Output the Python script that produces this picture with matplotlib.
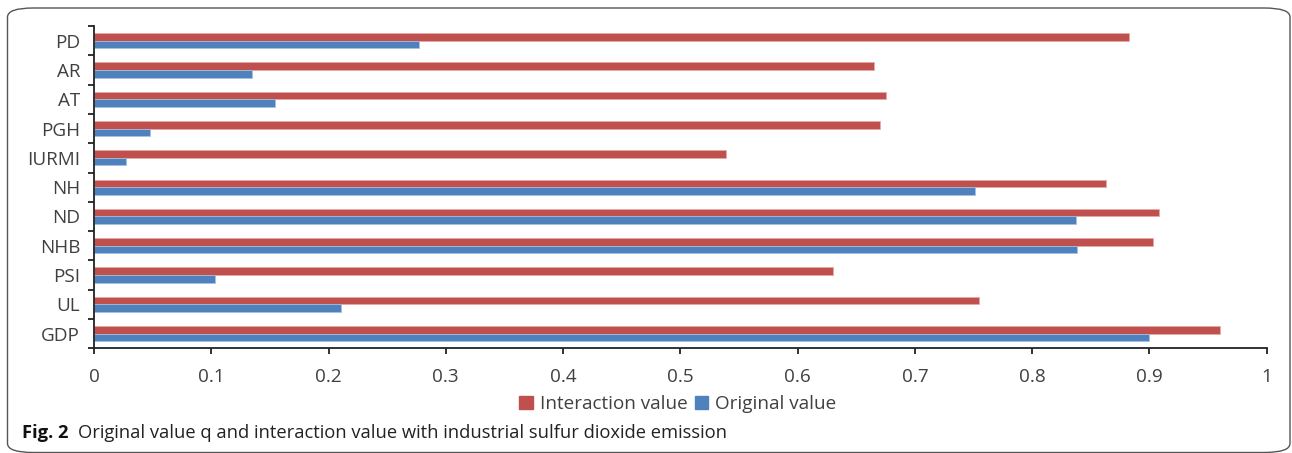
import matplotlib.pyplot as plt
from matplotlib.patches import FancyBboxPatch, Patch

plt.rcParams['font.family'] = ['Open Sans', 'DejaVu Sans']

# categories listed bottom to top
categories = ['GDP', 'UL', 'PSI', 'NHB', 'ND', 'NH', 'IURMI', 'PGH', 'AT', 'AR', 'PD']
interaction = [0.960, 0.755, 0.630, 0.903, 0.908, 0.863, 0.539, 0.670, 0.675, 0.665, 0.883]
original = [0.900, 0.211, 0.103, 0.838, 0.837, 0.751, 0.027, 0.048, 0.154, 0.135, 0.277]
xticks = [0, 0.1, 0.2, 0.3, 0.4, 0.5, 0.6, 0.7, 0.8, 0.9, 1]
xlabels = ['0', '0.1', '0.2', '0.3', '0.4', '0.5', '0.6', '0.7', '0.8', '0.9', '1']

red = '#C0504D'
blue = '#4F81BD'

W, H = 1292, 453
fig = plt.figure(figsize=(W / 100, H / 100), dpi=100)
ax = fig.add_axes([94 / W, 1 - 348.3 / H, (1266.7 - 94) / W, (348.3 - 26) / H])

h = 0.26
pos = list(range(len(categories)))
ax.barh([p + h / 2 for p in pos], interaction, height=h, color=red,
        edgecolor='#E8A9A8', linewidth=0.5, label='Interaction value')
ax.barh([p - h / 2 for p in pos], original, height=h, color=blue,
        edgecolor='#A9C1E0', linewidth=0.5, label='Original value')

ax.set_xlim(0, 1)
ax.set_ylim(-0.5, len(categories) - 0.5)
ax.set_xticks(xticks)
ax.set_xticklabels(xlabels)
ax.set_yticks(pos)
ax.set_yticklabels(categories)
ax.set_yticks([p - 0.5 for p in pos] + [len(categories) - 0.5], minor=True)

ax.tick_params(axis='y', which='major', length=0, pad=10, labelsize=13.6, labelcolor='#404040')
ax.tick_params(axis='y', which='minor', length=4, width=1.3, color='#222222')
ax.tick_params(axis='x', length=4, width=1.3, color='#222222', pad=10,
               labelsize=13.6, labelcolor='#404040')
for s in ['top', 'right']:
    ax.spines[s].set_visible(False)
for s in ['left', 'bottom']:
    ax.spines[s].set_linewidth(1.3)
    ax.spines[s].set_color('#222222')

handles = [Patch(color=red, label='Interaction value'), Patch(color=blue, label='Original value')]
fig.legend(handles=handles, loc='center', bbox_to_anchor=(678 / W, 1 - 404 / H), ncol=2,
           frameon=False, fontsize=13.6, handlelength=0.7, handleheight=0.7,
           handletextpad=0.4, columnspacing=0.35, labelcolor='#404040')

# caption
fig.canvas.draw()
r = fig.canvas.get_renderer()
t1 = fig.text(22 / W, 1 - 433 / H, 'Fig. 2', fontsize=13.2, fontweight='bold',
              va='center', ha='left', color='#111111')
bb = t1.get_window_extent(renderer=r)
fig.text((bb.x1 + 10) / W, 1 - 433 / H,
         'Original value q and interaction value with industrial sulfur dioxide emission',
         fontsize=13.2, va='center', ha='left', color='#222222')

# rounded frame around the figure
frame = FancyBboxPatch((7.5 / W, 0.5 / H), (1290 - 7.5) / W, (445 - 0.5) / H,
                       boxstyle='round,pad=0,rounding_size=0.02', transform=fig.transFigure,
                       facecolor='none', edgecolor='#555555', linewidth=1.0, clip_on=False)
fig.patches.append(frame)

fig.savefig('out.png', dpi=100)
